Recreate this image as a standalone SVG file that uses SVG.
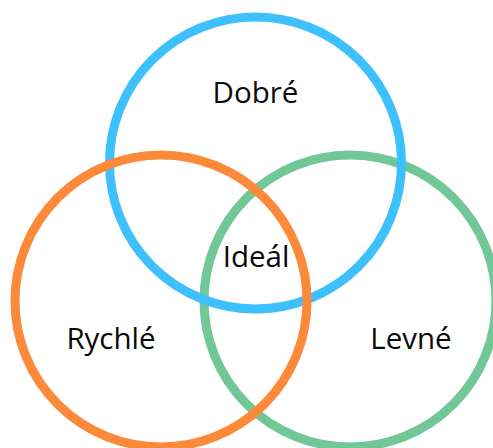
<svg xmlns="http://www.w3.org/2000/svg" width="493" height="448" viewBox="0 0 493 448">
  <style>
    .ring { fill: none; stroke-width: 9; }
    .label { font-family: "Open Sans", "Noto Sans", "DejaVu Sans", sans-serif; font-size: 29.5px; fill: #0a0a0a; text-anchor: middle; }
  </style>
  <rect width="493" height="448" fill="#ffffff"/>
  <!-- Venn circles: green bottom, blue middle, orange top -->
  <g id="levne">
    <circle class="ring" cx="350" cy="301" r="146" stroke="#71c795"/>
    <text class="label" x="411" y="349">Levné</text>
  </g>
  <g id="dobre">
    <circle class="ring" cx="255.5" cy="163" r="146" stroke="#3ec0fc"/>
    <text class="label" x="255.5" y="103">Dobré</text>
  </g>
  <g id="rychle">
    <circle class="ring" cx="161" cy="301" r="146" stroke="#fd8a3a"/>
    <text class="label" x="111" y="349">Rychlé</text>
  </g>
  <g id="ideal">
    <text class="label" x="256" y="267">Ideál</text>
  </g>
</svg>
